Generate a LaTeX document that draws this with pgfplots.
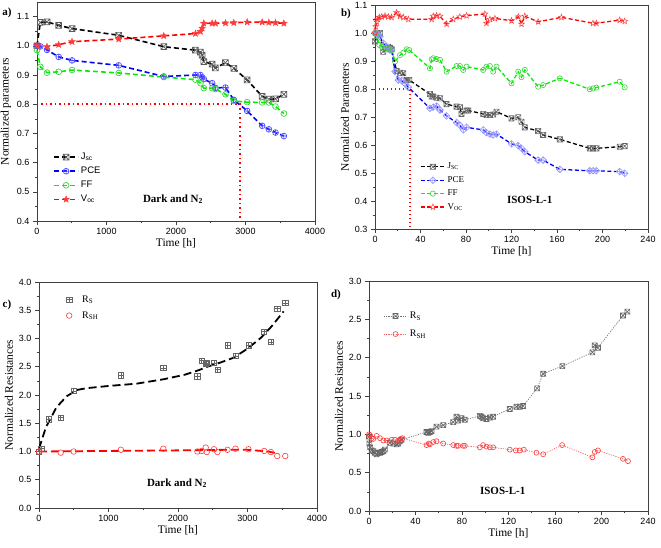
\documentclass[border=0pt]{standalone}
\usepackage{fontspec}
\setmainfont{Liberation Serif}
\newfontfamily\sansf{Liberation Sans}
\usepackage{pgfplots}
\pgfplotsset{compat=1.18}

\definecolor{lgreen}{RGB}{0,240,0}
\definecolor{mgreen}{RGB}{60,210,60}
\definecolor{mblue}{RGB}{80,80,255}
\definecolor{lav}{RGB}{150,150,255}
\definecolor{mred}{RGB}{255,60,60}

% square with cross / square with plus / stars / diamond with plus
\pgfdeclareplotmark{sqx}{%
  \pgfpathrectangle{\pgfqpoint{-\pgfplotmarksize}{-\pgfplotmarksize}}{\pgfqpoint{2\pgfplotmarksize}{2\pgfplotmarksize}}%
  \pgfpathmoveto{\pgfqpoint{-\pgfplotmarksize}{-\pgfplotmarksize}}%
  \pgfpathlineto{\pgfqpoint{\pgfplotmarksize}{\pgfplotmarksize}}%
  \pgfpathmoveto{\pgfqpoint{-\pgfplotmarksize}{\pgfplotmarksize}}%
  \pgfpathlineto{\pgfqpoint{\pgfplotmarksize}{-\pgfplotmarksize}}%
  \pgfusepathqstroke}
\pgfdeclareplotmark{sqplus}{%
  \pgfpathrectangle{\pgfqpoint{-\pgfplotmarksize}{-\pgfplotmarksize}}{\pgfqpoint{2\pgfplotmarksize}{2\pgfplotmarksize}}%
  \pgfpathmoveto{\pgfqpoint{-\pgfplotmarksize}{0pt}}%
  \pgfpathlineto{\pgfqpoint{\pgfplotmarksize}{0pt}}%
  \pgfpathmoveto{\pgfqpoint{0pt}{\pgfplotmarksize}}%
  \pgfpathlineto{\pgfqpoint{0pt}{-\pgfplotmarksize}}%
  \pgfusepathqstroke}
\pgfdeclareplotmark{dplus}{%
  \pgfpathmoveto{\pgfqpoint{0pt}{1.3\pgfplotmarksize}}%
  \pgfpathlineto{\pgfqpoint{1.3\pgfplotmarksize}{0pt}}%
  \pgfpathlineto{\pgfqpoint{0pt}{-1.3\pgfplotmarksize}}%
  \pgfpathlineto{\pgfqpoint{-1.3\pgfplotmarksize}{0pt}}%
  \pgfpathclose
  \pgfpathmoveto{\pgfqpoint{-1.3\pgfplotmarksize}{0pt}}%
  \pgfpathlineto{\pgfqpoint{1.3\pgfplotmarksize}{0pt}}%
  \pgfpathmoveto{\pgfqpoint{0pt}{1.3\pgfplotmarksize}}%
  \pgfpathlineto{\pgfqpoint{0pt}{-1.3\pgfplotmarksize}}%
  \pgfusepathqstroke}
\def\starpath{%
  \pgfpathmoveto{\pgfpointpolar{90}{1.2*\pgfplotmarksize}}%
  \pgfpathlineto{\pgfpointpolar{126}{0.5*\pgfplotmarksize}}%
  \pgfpathlineto{\pgfpointpolar{162}{1.2*\pgfplotmarksize}}%
  \pgfpathlineto{\pgfpointpolar{198}{0.5*\pgfplotmarksize}}%
  \pgfpathlineto{\pgfpointpolar{234}{1.2*\pgfplotmarksize}}%
  \pgfpathlineto{\pgfpointpolar{270}{0.5*\pgfplotmarksize}}%
  \pgfpathlineto{\pgfpointpolar{306}{1.2*\pgfplotmarksize}}%
  \pgfpathlineto{\pgfpointpolar{342}{0.5*\pgfplotmarksize}}%
  \pgfpathlineto{\pgfpointpolar{18}{1.2*\pgfplotmarksize}}%
  \pgfpathlineto{\pgfpointpolar{54}{0.5*\pgfplotmarksize}}%
  \pgfpathclose}
\pgfdeclareplotmark{fstar}{\starpath\pgfusepathqfillstroke}
\pgfdeclareplotmark{ostar}{\starpath\pgfusepathqstroke}

\pgfplotsset{
  panel/.style={
    scale only axis,
    axis line style={draw=black!75, line width=0.9pt},
    tick align=outside, xtick pos=bottom, ytick pos=left,
    minor tick num=1,
    tick style={black!75, line width=0.6pt},
    major tick length=4pt, minor tick length=2.2pt,
    tick label style={font=\sansf\fontsize{9}{10}\selectfont},
    /pgf/number format/assume math mode=true,
    /pgf/number format/1000 sep={},
    scaled ticks=false,
    yticklabel style={/pgf/number format/.cd, fixed, fixed zerofill, precision=1},
    label style={font=\fontsize{11.5}{12}\selectfont},
    xlabel={Time [h]},
    xlabel style={yshift=3pt},
    ylabel style={yshift=-1pt},
    legend cell align=left,
    legend style={draw=none, fill=none, inner sep=0pt, row sep=2pt},
    legend image code/.code={%
      \draw[mark repeat=2, mark phase=2, ##1] plot coordinates {(0pt,0pt) (12pt,0pt) (24pt,0pt)};},
    clip=false,
  },
}
\tikzset{pnl/.style={font=\bfseries\fontsize{11}{12}\selectfont, anchor=center}}

\begin{document}
\begin{tikzpicture}[x=1pt,y=1pt]

%---------------- a) ----------------
\begin{axis}[panel, at={(37pt,-221pt)}, anchor=south west,
  width=278pt, height=219pt,
  xmin=0, xmax=4000, ymin=0.4, ymax=1.15,
  xtick={0,1000,2000,3000,4000},
  ytick={0.4,0.5,0.6,0.7,0.8,0.9,1.0,1.1},
  ylabel={Normalized parameters},
  legend style={at={(0.058,0.32)}, anchor=north west,
    font=\sansf\fontsize{9.5}{10}\selectfont},
  every axis plot/.append style={line width=1.6pt, dash pattern=on 5pt off 3pt, mark size=2.9pt},
]
\addplot[black, mark=sqx, mark options={solid, draw=black!65, line width=0.7pt}] coordinates {
 (0,1.0) (48,1.08) (144,1.082) (312,1.07) (504,1.059) (1176,1.036) (1824,0.997)
 (2280,0.985) (2352,0.978) (2376,0.968) (2400,0.946) (2520,0.937) (2568,0.924)
 (2712,0.942) (2832,0.923) (3024,0.883) (3240,0.827) (3336,0.817) (3432,0.818) (3552,0.834)};
\addlegendentry{J\textsubscript{sc}}
\addplot[blue, mark=oplus, mark options={solid, draw=mblue, fill=none, line width=0.7pt}] coordinates {
 (0,1.0) (48,0.998) (144,0.986) (312,0.962) (504,0.95) (1176,0.933) (1824,0.895)
 (2280,0.9) (2352,0.9) (2376,0.892) (2400,0.886) (2520,0.872) (2568,0.856)
 (2712,0.857) (2832,0.815) (3024,0.777) (3240,0.726) (3336,0.714) (3432,0.703) (3552,0.691)};
\addlegendentry{PCE}
\addplot[lgreen, mark=o, mark options={solid, draw=mgreen, line width=0.7pt}] coordinates {
 (0,0.985) (48,0.928) (144,0.908) (312,0.911) (504,0.917) (1176,0.907) (1824,0.893)
 (2280,0.884) (2352,0.872) (2400,0.855) (2520,0.855) (2568,0.852) (2712,0.834)
 (2832,0.811) (3024,0.807) (3240,0.806) (3336,0.806) (3432,0.792) (3552,0.768)};
\addlegendentry{FF}
\addplot[red, mark=fstar, mark options={solid, draw=mred, fill=mred, line width=0.4pt}] coordinates {
 (0,1.0) (144,0.997) (312,1.004) (504,1.014) (1176,1.023) (1824,1.034) (2280,1.042)
 (2352,1.049) (2376,1.06) (2400,1.077) (2520,1.077) (2568,1.077) (2712,1.078)
 (2832,1.079) (3024,1.081) (3240,1.081) (3336,1.08) (3432,1.079) (3552,1.077)};
\addlegendentry{V\textsubscript{oc}}
\addplot[red, line width=1.5pt, dash pattern=on 1.5pt off 3pt, forget plot] coordinates {
 (0,0.8) (2920,0.8) (2920,0.4)};
\node[font=\bfseries\fontsize{11}{12}\selectfont] at (axis cs:1957,0.475) {Dark and N\textsubscript{2}};
\end{axis}

%---------------- b) ----------------
\begin{axis}[panel, at={(375pt,-229pt)}, anchor=south west,
  width=273pt, height=224pt,
  xmin=0, xmax=240, ymin=0.3, ymax=1.1,
  xtick={0,40,...,240},
  ytick={0.3,0.4,0.5,0.6,0.7,0.8,0.9,1.0,1.1},
  ylabel={Normalized Parameters},
  legend style={at={(0.165,0.304)}, anchor=north west,
    font=\fontsize{9}{10}\selectfont},
  every axis plot/.append style={line width=1.3pt, dash pattern=on 4pt off 2.5pt, mark size=2.6pt},
]
\addplot[black, mark=sqx, mark options={solid, draw=black!60, line width=0.6pt}] coordinates {
 (0,0.97) (1.5,1.0) (2.9,0.995) (4.4,1.0) (7.3,0.933) (9.7,0.942) (11.7,0.951) (13.2,0.946)
 (14.6,0.942) (19,0.864) (22,0.858) (24.9,0.856) (27.8,0.832) (30.1,0.832) (48.3,0.782)
 (49.8,0.773) (51.2,0.773) (54.1,0.769) (57.1,0.767) (62.9,0.746) (71.7,0.737) (74.6,0.735)
 (76.1,0.711) (80.5,0.723) (82,0.723) (95.1,0.711) (98,0.707) (101,0.707) (103.9,0.709)
 (106.8,0.719) (120,0.695) (125.9,0.699) (128.8,0.683) (131.7,0.663) (143.4,0.65)
 (147.8,0.636) (162.5,0.62) (188.8,0.588) (191.7,0.588) (194.6,0.588) (215.1,0.594) (219.5,0.596)};
\addlegendentry{J\textsubscript{SC}}
\addplot[blue, mark=dplus, mark options={solid, draw=lav, line width=0.6pt}] coordinates {
 (0,1.0) (1.5,0.999) (2.9,0.995) (4.4,0.987) (7.3,0.963) (10.2,0.951) (13.2,0.939)
 (14.6,0.939) (17.6,0.862) (20.5,0.832) (23.4,0.83) (26.3,0.82) (29.3,0.806) (48.3,0.731)
 (51.2,0.735) (54.1,0.739) (57.1,0.725) (62.9,0.704) (71.7,0.68) (74.6,0.671) (77.6,0.654)
 (80.5,0.663) (95.1,0.654) (98,0.644) (101,0.639) (103.9,0.636) (106.8,0.639) (120,0.604)
 (125.9,0.598) (128.8,0.588) (131.7,0.576) (143.4,0.546) (147.8,0.546) (162.5,0.513)
 (188.8,0.508) (191.7,0.508) (194.6,0.508) (215.1,0.505) (219.5,0.499)};
\addlegendentry{PCE}
\addplot[lgreen, mark=o, mark options={solid, draw=mgreen, line width=0.6pt}] coordinates {
 (0,1.0) (1.5,0.989) (3.8,0.957) (5.9,0.951) (8.8,0.945) (11.7,0.945) (14.6,0.939)
 (17.6,0.898) (22,0.921) (24.9,0.93) (27.8,0.942) (30.1,0.939) (48.3,0.874) (49.8,0.906)
 (51.2,0.91) (54.1,0.907) (57.1,0.904) (62.9,0.862) (71.7,0.882) (74.6,0.882) (77.6,0.868)
 (80.5,0.88) (95.1,0.868) (98,0.88) (101,0.882) (103.9,0.862) (106.8,0.88) (120,0.82)
 (125.9,0.862) (128.8,0.842) (131.7,0.868) (143.4,0.808) (147.8,0.814) (162.5,0.838)
 (188.8,0.799) (191.7,0.802) (194.6,0.805) (215.1,0.826) (219.5,0.806)};
\addlegendentry{FF}
\addplot[red, mark=ostar, mark options={solid, draw=mred, line width=0.5pt}] coordinates {
 (0,1.0) (0.6,1.023) (1.5,1.04) (2.3,1.049) (3.8,1.056) (5.9,1.058) (8.8,1.061) (11.7,1.058)
 (14.6,1.056) (19,1.073) (22,1.06) (24.9,1.056) (29.3,1.049) (49.8,1.049) (51.2,1.06)
 (54.1,1.062) (57.1,1.06) (62.9,1.032) (68.8,1.049) (74.6,1.058) (80.5,1.062) (96.6,1.068)
 (98,1.035) (101,1.049) (105.4,1.052) (120,1.044) (125.9,1.058) (128.8,1.032) (131.7,1.06)
 (143.4,1.04) (163.9,1.056) (191.7,1.035) (194.6,1.035) (215.1,1.046) (219.5,1.042)};
\addlegendentry{V\textsubscript{OC}}
\addplot[red, line width=1.3pt, dash pattern=on 1.3pt off 2.7pt, forget plot] coordinates {
 (0,0.8) (30.7,0.8) (30.7,0.3)};
\node[font=\bfseries\fontsize{11}{12}\selectfont] at (axis cs:136,0.404) {ISOS-L-1};
\end{axis}

%---------------- c) ----------------
\begin{axis}[panel, at={(39pt,-508pt)}, anchor=south west,
  width=278pt, height=226pt,
  xmin=0, xmax=4000, ymin=0, ymax=4,
  xtick={0,1000,2000,3000,4000},
  ytick={0,0.5,...,4},
  ylabel={Normalized Resistances},
  legend style={at={(0.09,0.95)}, anchor=north west, row sep=4pt,
    font=\fontsize{10}{11}\selectfont},
  legend image code/.code={\path[draw=none] (0pt,0pt) -- (16pt,0pt); \draw[#1] plot coordinates {(5pt,0pt)};},
]
\addplot[black, line width=1.8pt, dash pattern=on 8pt off 4pt, forget plot] coordinates {
 (0,1.05) (100,1.43) (250,1.78) (400,1.98) (550,2.09) (680,2.12) (1000,2.16) (1400,2.2)
 (1800,2.28) (2100,2.36) (2300,2.44) (2420,2.5) (2600,2.57) (2800,2.66) (3000,2.82)
 (3200,3.02) (3350,3.22) (3520,3.48)};
\addplot[red, line width=1.8pt, dash pattern=on 8pt off 4pt, forget plot] coordinates {
 (0,1.0) (1000,1.01) (2000,1.02) (2700,1.03) (3000,1.03) (3300,1.0) (3450,0.96)};
\addplot[only marks, mark=sqplus, mark size=2.6pt, mark options={draw=black!60, line width=0.6pt}] coordinates {
 (0,1.0) (34,1.05) (139,1.57) (312,1.6) (500,2.07) (1178,2.35) (1788,2.48) (2279,2.33)
 (2341,2.61) (2399,2.55) (2413,2.57) (2519,2.57) (2567,2.45) (2712,2.88) (2827,2.69)
 (3014,2.88) (3240,3.12) (3336,2.94) (3428,3.53) (3543,3.63)};
\addlegendentry{R\textsubscript{S}}
\addplot[only marks, mark=o, mark size=2.8pt, mark options={draw=mred, line width=0.6pt}] coordinates {
 (0,1.0) (312,0.98) (500,1.0) (1178,1.03) (1788,1.05) (2279,1.0) (2341,1.01) (2399,1.07)
 (2413,0.99) (2519,1.04) (2567,0.99) (2712,1.03) (2827,1.05) (3014,1.04) (3240,1.01)
 (3336,0.99) (3428,0.92) (3543,0.92)};
\addlegendentry{R\textsubscript{SH}}
\node[font=\bfseries\fontsize{11}{12}\selectfont] at (axis cs:1986,0.44) {Dark and N\textsubscript{2}};
\end{axis}

%---------------- d) ----------------
\begin{axis}[panel, at={(369pt,-511pt)}, anchor=south west,
  width=279pt, height=230pt,
  xmin=0, xmax=240, ymin=0, ymax=3,
  xtick={0,40,...,240},
  ytick={0,0.5,...,3},
  ylabel={Normalized Resistances},
  legend style={at={(0.05,0.875)}, anchor=north west, row sep=6pt,
    font=\fontsize{10}{11}\selectfont},
  every axis plot/.append style={line width=0.7pt, dash pattern=on 1.2pt off 1.2pt, mark size=2.5pt},
]
\addplot[black!55, mark=sqx, mark options={solid, draw=black!60, line width=0.6pt}] coordinates {
 (0,0.97) (0.3,0.88) (0.9,0.83) (2.3,0.79) (3.7,0.78) (5.2,0.76) (6.6,0.74) (8,0.76) (9.5,0.76)
 (10.9,0.77) (12.3,0.78) (13.7,0.8) (18,0.89) (20.9,0.88) (23.8,0.87) (25.2,0.88) (26.6,0.91)
 (28.1,0.93) (49.5,1.03) (51,1.02) (52.4,1.03) (53.8,1.04) (58.1,1.1) (63.9,1.12) (72.5,1.16)
 (75.3,1.23) (76.7,1.18) (79.6,1.21) (82.5,1.19) (95.4,1.24) (96.8,1.23) (98.2,1.21)
 (101.1,1.2) (104,1.22) (106.8,1.23) (121.1,1.33) (126.9,1.36) (129.7,1.36) (132.6,1.37)
 (144.6,1.6) (149.8,1.79) (166.4,1.89) (192.2,2.07) (194.2,2.16) (197,2.13) (218.5,2.55) (222.2,2.6)};
\addlegendentry{R\textsubscript{S}}
\addplot[mred!80, mark=o, mark options={solid, draw=mred, line width=0.6pt}] coordinates {
 (0,1.0) (0.9,0.99) (2.3,0.95) (3.7,0.94) (6.6,0.98) (9.5,0.95) (12.3,0.92) (15.2,0.92)
 (19.5,0.93) (22.4,0.93) (25.2,0.92) (27.2,0.94) (28.9,0.95) (49.5,0.86) (51.5,0.88)
 (52.4,0.87) (55.3,0.9) (58.1,0.91) (63.9,0.88) (72.5,0.86) (75.3,0.85) (76.7,0.85) (81,0.85)
 (82.5,0.85) (95.4,0.83) (98.2,0.86) (101.1,0.84) (104,0.83) (106.8,0.83) (121.1,0.8)
 (126.3,0.79) (129.7,0.79) (133.2,0.8) (144,0.76) (149.8,0.74) (166.1,0.86) (192.2,0.7)
 (194.2,0.77) (197,0.79) (218.5,0.68) (222.8,0.65)};
\addlegendentry{R\textsubscript{SH}}
\node[font=\bfseries\fontsize{11}{12}\selectfont] at (axis cs:115,0.26) {ISOS-L-1};
\end{axis}

\node[pnl] at (7pt,-13pt) {a)};
\node[pnl] at (346pt,-14pt) {b)};
\node[pnl] at (7pt,-305pt) {c)};
\node[pnl] at (336pt,-295pt) {d)};

\pgfresetboundingbox
\useasboundingbox (0pt,0pt) rectangle (661pt,-548pt);
\end{tikzpicture}
\end{document}
